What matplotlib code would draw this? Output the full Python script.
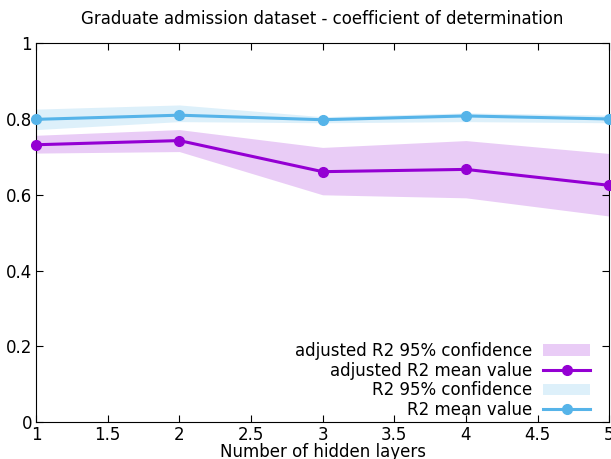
import numpy as np
from matplotlib import pyplot as plt
from matplotlib.patches import Patch
from matplotlib.lines import Line2D

# data
layers = [1, 2, 3, 4, 5]
r2_mean = [0.799, 0.810, 0.798, 0.808, 0.800]
r2_low = [0.772, 0.793, 0.790, 0.793, 0.790]
r2_high = [0.826, 0.837, 0.806, 0.816, 0.810]
adj_mean = [0.732, 0.743, 0.661, 0.667, 0.625]
adj_low = [0.710, 0.714, 0.600, 0.592, 0.544]
adj_high = [0.757, 0.772, 0.725, 0.743, 0.709]

purple = '#9400d3'
blue = '#56b4e9'

plt.rcParams['font.family'] = ['DejaVu Sans']

fig = plt.figure(figsize=(6.11, 4.59), dpi=100)
ax = fig.add_axes([0.059, 0.08, 0.938, 0.826])

ax.fill_between(layers, adj_low, adj_high, color=purple, alpha=0.2, lw=0)
ax.plot(layers, adj_mean, color=purple, lw=2.2, marker='o', ms=7, clip_on=False, zorder=3)
ax.fill_between(layers, r2_low, r2_high, color=blue, alpha=0.2, lw=0)
ax.plot(layers, r2_mean, color=blue, lw=2.2, marker='o', ms=7, clip_on=False, zorder=3)

ax.set_xlim(1, 5)
ax.set_ylim(0, 1)
ax.set_xticks(np.arange(1, 5.01, 0.5))
ax.set_xticklabels(['1', '1.5', '2', '2.5', '3', '3.5', '4', '4.5', '5'])
ax.set_yticks(np.arange(0, 1.01, 0.2))
ax.set_yticklabels(['0', '0.2', '0.4', '0.6', '0.8', '1'])
ax.tick_params(direction='in', top=True, right=True, length=5, labelsize=12, pad=3)
ax.set_xlabel('Number of hidden layers', fontsize=12, labelpad=-1)
ax.set_title('Graduate admission dataset - coefficient of determination', fontsize=12, pad=14)

handles = [
    Patch(facecolor=purple, alpha=0.2, lw=0),
    Line2D([], [], color=purple, lw=2.2, marker='o', ms=7),
    Patch(facecolor=blue, alpha=0.2, lw=0),
    Line2D([], [], color=blue, lw=2.2, marker='o', ms=7),
]
labels = ['adjusted R2 95% confidence', 'adjusted R2 mean value',
          'R2 95% confidence', 'R2 mean value']
ax.legend(handles, labels, loc='lower right', frameon=False, markerfirst=False,
          fontsize=12, handlelength=2.8, handletextpad=0.65, labelspacing=0.1,
          borderpad=0, bbox_to_anchor=(0.981, -0.013))

fig.savefig('out.png', dpi=100)
